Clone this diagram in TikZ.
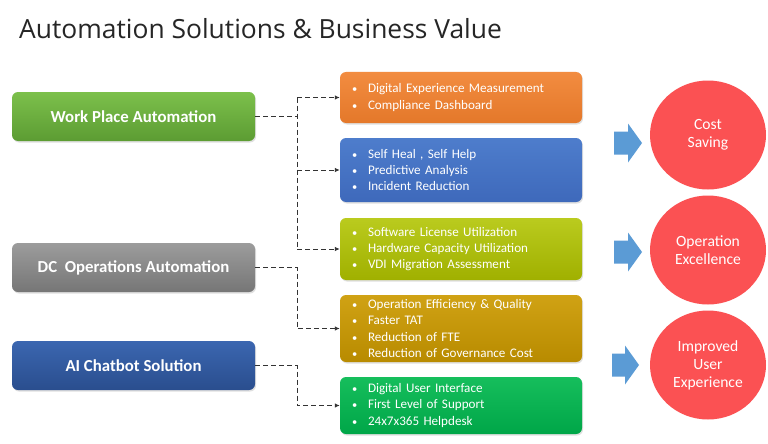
\documentclass[tikz,border=0pt]{standalone}
\usepackage{fontspec}
\setmainfont{Carlito}
\newfontfamily\titlefont{Open Sans}
\usetikzlibrary{arrows.meta,shadows,shapes.geometric}
\definecolor{wpaT}{HTML}{7CC04B}
\definecolor{wpaB}{HTML}{5C9C33}
\definecolor{dcT}{HTML}{9C9C9C}
\definecolor{dcB}{HTML}{767676}
\definecolor{aiT}{HTML}{3B66B0}
\definecolor{aiB}{HTML}{2A4E8E}
\definecolor{orT}{HTML}{F28C40}
\definecolor{orB}{HTML}{E4782A}
\definecolor{blT}{HTML}{4E7DCC}
\definecolor{blB}{HTML}{3E69BB}
\definecolor{ygT}{HTML}{BACB1E}
\definecolor{ygB}{HTML}{A0B000}
\definecolor{goT}{HTML}{D0A214}
\definecolor{goB}{HTML}{B88B00}
\definecolor{grT}{HTML}{16BE5C}
\definecolor{grB}{HTML}{00A648}
\definecolor{circred}{HTML}{FB5153}
\definecolor{arrblue}{HTML}{5B9BD5}
\definecolor{titlegray}{HTML}{262626}
\tikzset{
  lbox/.style={rounded corners=6pt, minimum width=243pt, minimum height=49pt,
    text=white, font=\bfseries\fontsize{16.8}{20}\selectfont,
    drop shadow={opacity=0.25, shadow xshift=1pt, shadow yshift=-1.5pt}},
  rbox/.style={rounded corners=6pt, minimum width=242pt, text width=218pt,
    inner xsep=12pt, align=left, text=white,
    font=\fontsize{13.1}{16.2}\selectfont,
    drop shadow={opacity=0.25, shadow xshift=1pt, shadow yshift=-1.5pt}},
  circ/.style={ellipse, fill=circred, minimum width=116pt, minimum height=109pt,
    text=white, align=center, font=\fontsize{15.6}{18}\selectfont, inner sep=0pt},
  conn/.style={draw=black!80, line width=0.9pt, dash pattern=on 5pt off 3pt},
  tip/.style={-{Latex[length=5pt,width=4.5pt]}},
  blockarr/.style={fill=arrblue}
}
\newcommand{\bu}[1]{\makebox[16pt][l]{\scalebox{0.8}{\textbullet}}#1}
\newcommand{\blockarrow}[3]{% x-tail, x-tip, y-center
  \fill[blockarr] (#1,#3-11.5) -- ({#2-14},#3-11.5) -- ({#2-14},#3-19.5) -- (#2,#3)
    -- ({#2-14},#3+19.5) -- ({#2-14},#3+11.5) -- (#1,#3+11.5) -- cycle;}
\begin{document}
\begin{tikzpicture}[x=1pt,y=-1pt]
\useasboundingbox (0,0) rectangle (768,444);
\fill[white] (0,0) rectangle (768,444);

\node[anchor=base west, inner sep=0pt, text=titlegray,
  font=\titlefont\fontsize{26.4}{30}\selectfont] (title) at (19,38)
  {Automation Solutions \& Business Value};

% left boxes
\node[lbox, top color=wpaT, bottom color=wpaB] (wpa) at (133.5,116.5) {Work Place Automation};
\node[lbox, top color=dcT, bottom color=dcB] (dc) at (133.5,267.5) {DC\ \ Operations Automation};
\node[lbox, top color=aiT, bottom color=aiB] (ai) at (133.5,365.5) {AI Chatbot Solution};

% right boxes
\node[rbox, minimum height=51pt, top color=orT, bottom color=orB] (orange) at (461,97.5)
  {\bu{Digital Experience Measurement}\\\bu{Compliance Dashboard}};
\node[rbox, minimum height=64pt, top color=blT, bottom color=blB] (blue) at (461,170)
  {\bu{Self Heal , Self Help}\\\bu{Predictive Analysis}\\\bu{Incident Reduction}};
\node[rbox, minimum height=62pt, top color=ygT, bottom color=ygB] (yg) at (461,249)
  {\bu{Software License Utilization}\\\bu{Hardware Capacity Utilization}\\\bu{VDI Migration Assessment}};
\node[rbox, minimum height=67pt, top color=goT, bottom color=goB] (gold) at (461,328.5)
  {\bu{Operation Efficiency \& Quality}\\\bu{Faster TAT}\\\bu{Reduction of FTE}\\\bu{Reduction of Governance Cost}};
\node[rbox, minimum height=57pt, top color=grT, bottom color=grB] (green) at (461,405.5)
  {\bu{Digital User Interface}\\\bu{First Level of Support}\\\bu{24x7x365 Helpdesk}};

% connectors
\coordinate (bus) at (297,0);
\coordinate (j1) at (bus |- wpa.east);
\draw[conn] (wpa.east) -- (j1);
\draw[conn] (bus |- orange.west) -- (bus |- yg.west);
\draw[conn, tip] (bus |- orange.west) -- (orange.west);
\draw[conn, tip] (bus |- blue.west) -- (blue.west);
\draw[conn, tip] (bus |- yg.west) -- (yg.west);
\draw[conn, tip] (dc.east) -| (bus |- gold.west) -- (gold.west);
\draw[conn, tip] (ai.east) -| (bus |- green.west) -- (green.west);

% circles
\node[circ] (c1) at (708,135) {Cost\\Saving};
\node[circ] (c2) at (708,250) {Operation\\Excellence};
\node[circ] (c3) at (708,365) {Improved\\User\\Experience};

% block arrows
\blockarrow{614}{642}{143}
\blockarrow{614}{642}{252}
\blockarrow{612}{639}{365}
\end{tikzpicture}
\end{document}
